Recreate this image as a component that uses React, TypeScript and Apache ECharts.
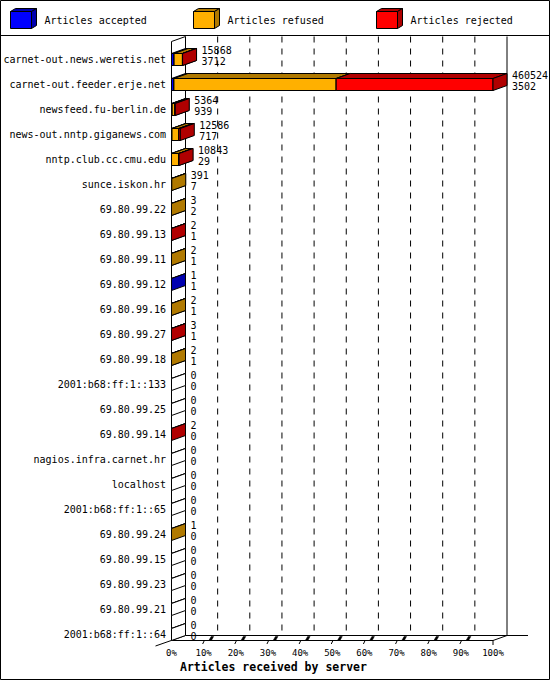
import React, { useEffect, useRef } from "react";
import * as echarts from "echarts";

// servers, top to bottom
const SERVERS = [
  "carnet-out.news.weretis.net",
  "carnet-out.feeder.erje.net",
  "newsfeed.fu-berlin.de",
  "news-out.nntp.giganews.com",
  "nntp.club.cc.cmu.edu",
  "sunce.iskon.hr",
  "69.80.99.22",
  "69.80.99.13",
  "69.80.99.11",
  "69.80.99.12",
  "69.80.99.16",
  "69.80.99.27",
  "69.80.99.18",
  "2001:b68:ff:1::133",
  "69.80.99.25",
  "69.80.99.14",
  "nagios.infra.carnet.hr",
  "localhost",
  "2001:b68:ff:1::65",
  "69.80.99.24",
  "69.80.99.15",
  "69.80.99.23",
  "69.80.99.21",
  "2001:b68:ff:1::64",
];

const OFFERED = [15868, 460524, 5364, 12586, 10843, 391, 3, 2, 2, 1, 2, 3, 2, 0, 0, 2, 0, 0, 0, 1, 0, 0, 0, 0];
const ACCEPTED = [3712, 3502, 939, 717, 29, 7, 2, 1, 1, 1, 1, 1, 1, 0, 0, 0, 0, 0, 0, 0, 0, 0, 0, 0];
const REFUSED = [11956, 232400, 3900, 9719, 10300, 384, 1, 0, 1, 0, 1, 0, 1, 0, 0, 0, 0, 0, 0, 1, 0, 0, 0, 0];
const REJECTED = [200, 224622, 525, 2150, 514, 0, 0, 1, 0, 0, 0, 2, 0, 0, 0, 2, 0, 0, 0, 0, 0, 0, 0, 0];

const X_TICKS = [0, 10, 20, 30, 40, 50, 60, 70, 80, 90, 100];

const SEGMENTS = [
  { name: "Articles accepted", values: ACCEPTED, front: "#0000ff", dark: "#0000b0" },
  { name: "Articles refused", values: REFUSED, front: "#ffb000", dark: "#b07900" },
  { name: "Articles rejected", values: REJECTED, front: "#ff0000", dark: "#b00000" },
];

const MONO = '"DejaVu Sans Mono", monospace';
const DX = 14; // depth of the 3d boxes
const DY = 5;

function box(x0: number, x1: number, yc: number, front: string, dark: string) {
  const T = yc - 5.5;
  const B = yc + 6.5;
  const st = { stroke: "#000", lineWidth: 1 };
  return {
    type: "group",
    children: [
      { type: "polygon", shape: { points: [[x0, T], [x1, T], [x1, B], [x0, B]] }, style: { fill: front, ...st } },
      { type: "polygon", shape: { points: [[x0, T], [x0 + DX, T - DY], [x1 + DX, T - DY], [x1, T]] }, style: { fill: dark, ...st } },
      { type: "polygon", shape: { points: [[x1, T], [x1 + DX, T - DY], [x1 + DX, B - DY], [x1, B]] }, style: { fill: dark, ...st } },
    ],
  };
}

function legendGraphic() {
  const els: any[] = [];
  SEGMENTS.forEach((s, k) => {
    const x = 10.5 + k * 183;
    const t = 11.5, b = 28.5, w = 21;
    const st = { stroke: "#000", lineWidth: 1 };
    els.push({ type: "polygon", shape: { points: [[x, t], [x + w, t], [x + w, b], [x, b]] }, style: { fill: s.front, ...st } });
    els.push({ type: "polygon", shape: { points: [[x, t], [x + 5, t - 3], [x + w + 5, t - 3], [x + w, t]] }, style: { fill: s.dark, ...st } });
    els.push({ type: "polygon", shape: { points: [[x + w, t], [x + w + 5, t - 3], [x + w + 5, b - 3], [x + w, b]] }, style: { fill: s.dark, ...st } });
    els.push({
      type: "text",
      x: x + 34,
      y: 20,
      style: { text: s.name, fill: "#000", font: `10px ${MONO}`, verticalAlign: "middle" },
    });
  });
  return els;
}

export default function App() {
  const chartRef = useRef<HTMLDivElement>(null);

  useEffect(() => {
    if (!chartRef.current) return;
    const chart = echarts.init(chartRef.current, undefined, { renderer: "svg" });

    const max = Math.max(...OFFERED);
    const pct = (v: number) => (v / max) * 100;

    const segSeries = SEGMENTS.map((s, k) => ({
      type: "custom",
      name: s.name,
      z: 2 + k,
      clip: false,
      data: SERVERS.map((_, i) => {
        let start = 0;
        for (let j = 0; j < k; j++) start += pct(SEGMENTS[j].values[i]);
        return [pct(s.values[i]), start, i];
      }),
      renderItem: (_p: any, api: any) => {
        const len = api.value(0);
        if (!(len > 0)) return null;
        const a = api.coord([api.value(1), api.value(2)]);
        const b = api.coord([api.value(1) + len, api.value(2)]);
        return box(a[0], b[0], a[1], s.front, s.dark);
      },
    }));

    const emptySeries = {
      type: "custom",
      name: "empty",
      z: 2,
      clip: false,
      data: SERVERS.map((_, i) => [OFFERED[i], i]),
      renderItem: (_p: any, api: any) => {
        if (api.value(0) > 0) return null;
        const a = api.coord([0, api.value(1)]);
        return box(a[0], a[0], a[1], "#fff", "#fff");
      },
    };

    const labelSeries = {
      type: "custom",
      name: "labels",
      z: 6,
      clip: false,
      data: SERVERS.map((_, i) => [pct(OFFERED[i]), i, OFFERED[i], ACCEPTED[i]]),
      renderItem: (_p: any, api: any) => {
        const p = api.coord([api.value(0), api.value(1)]);
        const x = p[0] + DX + 5;
        const font = `10px ${MONO}`;
        return {
          type: "group",
          children: [
            { type: "text", x, y: p[1] - 9, style: { text: String(api.value(2)), fill: "#000", font, verticalAlign: "middle" } },
            { type: "text", x, y: p[1] + 2, style: { text: String(api.value(3)), fill: "#000", font, verticalAlign: "middle" } },
          ],
        };
      },
    };

    const frameSeries = {
      type: "custom",
      name: "frame",
      z: 1,
      clip: false,
      data: [[0]],
      renderItem: (_p: any, api: any) => {
        const first = api.coord([0, 0]);
        const last = api.coord([100, SERVERS.length - 1]);
        const X0 = first[0];
        const X100 = last[0];
        const frontTop = first[1] - 17.5;
        const backTop = frontTop - DY;
        const floorF = last[1] + 6.5;
        const floorB = floorF - DY;
        const ln = (x1: number, y1: number, x2: number, y2: number, dash?: number[]) => ({
          type: "line",
          shape: { x1, y1, x2, y2 },
          style: { stroke: "#000", lineWidth: 1, lineDash: dash },
        });
        const ch: any[] = [
          ln(X0, frontTop, X0, floorF),
          ln(X0 + DX, backTop, X0 + DX, floorB),
          ln(X0, frontTop, X0 + DX, backTop),
          ln(X100 + DX, backTop, X100 + DX, floorB),
          ln(X0 + DX, floorB, X100 + DX + 21, floorB),
          ln(X0, floorF, X100, floorF),
          ln(X0 + DX, floorB, X0 - 16, floorF + 5.5),
          ln(X100, floorF, X100 + DX, floorB),
        ];
        X_TICKS.forEach((v) => {
          const x = api.coord([v, 0])[0];
          if (v > 0 && v < 100) {
            ch.push(ln(x + DX, backTop, x + DX, floorB, [6, 6]));
            ch.push(ln(x - 1, floorF + 3.5, x + 0.7, floorF));
            ch.push({
              type: "polygon",
              shape: { points: [[x + 5.5, floorF - 0.5], [x + 7.5, floorF - 4], [x + 10, floorF - 4], [x + 8, floorF - 0.5]] },
              style: { fill: "#000", stroke: "#000", lineWidth: 0.5 },
            });
          } else if (v === 100) {
            ch.push(ln(x, floorF, x, floorF + 4.5));
          }
        });
        return { type: "group", children: ch };
      },
    };

    chart.setOption({
      animation: false,
      backgroundColor: "#fff",
      grid: { left: 171.5, top: 46.5, width: 321.5, height: 600 },
      xAxis: {
        type: "value",
        min: 0,
        max: 100,
        interval: 10,
        axisLine: { show: false },
        axisTick: { show: false },
        splitLine: { show: false },
        axisLabel: { formatter: "{value}%", color: "#000", fontFamily: MONO, fontSize: 9, margin: 2 },
      },
      yAxis: {
        type: "category",
        inverse: true,
        data: SERVERS,
        axisLine: { show: false },
        axisTick: { show: false },
        axisLabel: { color: "#000", fontFamily: MONO, fontSize: 10, margin: 5.5 },
      },
      graphic: [
        { type: "rect", shape: { x: 0.5, y: 0.5, width: 549, height: 679 }, style: { fill: "none", stroke: "#000", lineWidth: 1 } },
        { type: "line", shape: { x1: 0, y1: 35.5, x2: 550, y2: 35.5 }, style: { stroke: "#000", lineWidth: 1 } },
        ...legendGraphic(),
        {
          type: "text",
          x: 180,
          y: 667,
          style: { text: "Articles received by server", fill: "#000", font: `bold 11.5px ${MONO}`, verticalAlign: "middle" },
        },
      ],
      series: [frameSeries, emptySeries, ...segSeries, labelSeries],
    });

    return () => {
      chart.dispose();
    };
  }, []);

  return (
    <div
      ref={chartRef}
      style={{ position: "absolute", left: 0, top: 0, width: 550, height: 680, background: "#fff" }}
    ></div>
  );
}
